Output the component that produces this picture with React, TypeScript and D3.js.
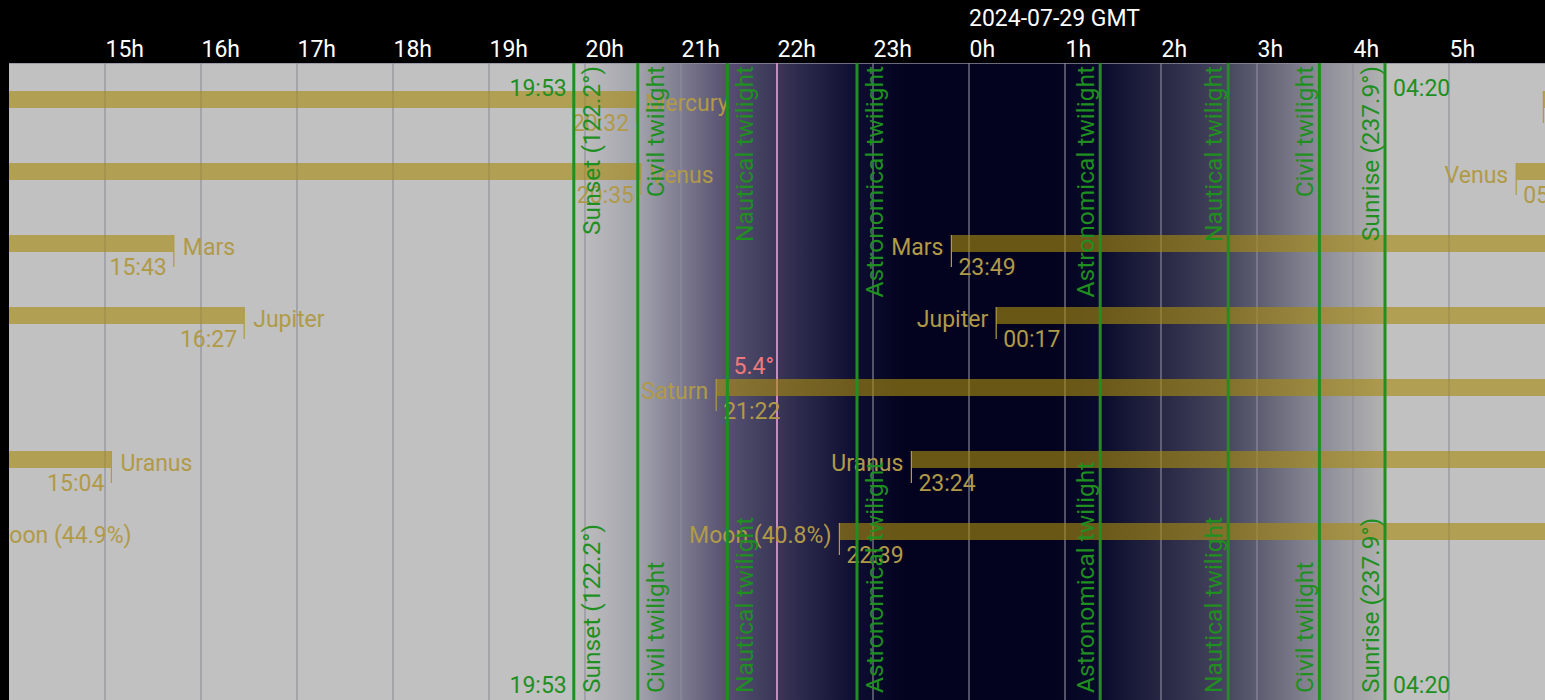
import * as d3 from "d3";
import { useEffect, useRef } from "react";

// night of 2024-07-28/29, times in GMT
const dateLabel = "2024-07-29 GMT";
const hourTicks = [15, 16, 17, 18, 19, 20, 21, 22, 23, 0, 1, 2, 3, 4, 5];

const twilightNames = [
  "Sunset (122.2°)",
  "Civil twilight",
  "Nautical twilight",
  "Astronomical twilight",
  "Astronomical twilight",
  "Nautical twilight",
  "Civil twilight",
  "Sunrise (237.9°)",
];
const twilightTimes = ["19:53", "20:33", "21:29", "22:50", "01:22", "02:42", "03:39", "04:20"];

// planets: set before the night (left bar), rise during/after (right bar)
const setNames = ["Mercury", "Venus", "Mars", "Jupiter", "", "Uranus", "Moon (44.9%)"];
const setTimes = ["20:32", "20:35", "15:43", "16:27", null, "15:04", "13:42"];
const riseNames = ["", "Venus", "Mars", "Jupiter", "Saturn", "Uranus", "Moon (40.8%)"];
const riseTimes = ["05:59", "05:42", "23:49", "00:17", "21:22", "23:24", "22:39"];

const nowTime = "22:00";
const nowLabel = "5.4°";
const nowRow = 4;

// sky colours at each twilight line, plus deep night
const skyColors = ["#c1c1c1", "#a3a3ad", "#55506f", "#0d0d31", "#0a0a2c", "#47475f", "#8b8b97", "#b3b3b3"];
const nightColor = "#03031f";

const parse = (t: string) => {
  const [h, m] = t.split(":").map(Number);
  return new Date(Date.UTC(2024, 6, h < 12 ? 29 : 28, h, m));
};

const App = () => {
  const svgRef = useRef(null);

  useEffect(() => {
    const w = 1545;
    const h = 700;
    const left = 9;
    const top = 63;
    const font = "Roboto, sans-serif";
    const gold = "#b09a48";
    const green = "#1f8f1f";

    const svg = d3.select(svgRef.current).attr("width", w).attr("height", h);
    svg.selectAll("*").remove();

    const x = d3
      .scaleUtc()
      .domain([new Date(Date.UTC(2024, 6, 28, 14)), new Date(Date.UTC(2024, 6, 29, 6))])
      .range([left, w]);
    const row = d3.scaleLinear().domain([0, 6]).range([91, 91 + 72 * 6]);
    const barH = 17;

    svg.append("rect").attr("width", w).attr("height", h).attr("fill", "#000");

    // header
    svg
      .append("text")
      .attr("x", x(parse("00:00")))
      .attr("y", 26)
      .attr("fill", "#fff")
      .attr("font-family", font)
      .attr("font-size", 23)
      .text(dateLabel);

    const xAxis = d3
      .axisTop(x)
      .tickValues(hourTicks.map((hr) => parse(`${hr}:00`)))
      .tickFormat((d: any) => `${d.getUTCHours()}h`)
      .tickSize(0)
      .tickPadding(0);
    const ax = svg.append("g").attr("transform", "translate(0,57)").call(xAxis);
    ax.select(".domain").remove();
    ax.selectAll("text")
      .attr("text-anchor", "start")
      .attr("fill", "#fff")
      .attr("font-family", font)
      .attr("font-size", 23);

    // plot area
    svg
      .append("clipPath")
      .attr("id", "plot")
      .append("rect")
      .attr("x", left)
      .attr("y", top)
      .attr("width", w - left)
      .attr("height", h - top);
    const g = svg.append("g").attr("clip-path", "url(#plot)");

    g.append("rect")
      .attr("x", left)
      .attr("y", top)
      .attr("width", w - left)
      .attr("height", h - top)
      .attr("fill", "#c1c1c1");

    // sky gradient sunset -> sunrise
    const tw = twilightTimes.map(parse);
    const x0 = x(tw[0]);
    const x1 = x(tw[tw.length - 1]);
    const off = (d: Date) => (x(d) - x0) / (x1 - x0);
    const stops: [number, string][] = tw.map((d, i) => [off(d), skyColors[i]]);
    stops.splice(4, 0, [off(new Date(+tw[3] + 30 * 60000)), nightColor], [off(new Date(+tw[4] - 30 * 60000)), nightColor]);
    const grad = svg
      .append("defs")
      .append("linearGradient")
      .attr("id", "sky")
      .attr("gradientUnits", "userSpaceOnUse")
      .attr("x1", x0)
      .attr("x2", x1)
      .attr("y1", 0)
      .attr("y2", 0);
    stops.forEach(([o, c]) => grad.append("stop").attr("offset", o).attr("stop-color", c));
    g.append("rect")
      .attr("x", x0)
      .attr("y", top)
      .attr("width", x1 - x0)
      .attr("height", h - top)
      .attr("fill", "url(#sky)");

    // hour gridlines
    g.selectAll(".grid")
      .data(hourTicks.map((hr) => parse(`${hr}:00`)))
      .enter()
      .append("line")
      .attr("x1", (d) => x(d))
      .attr("x2", (d) => x(d))
      .attr("y1", top)
      .attr("y2", h)
      .attr("stroke", "#8e8e9e")
      .attr("stroke-opacity", 0.75)
      .attr("stroke-width", 1.5);
    g.append("line")
      .attr("x1", left)
      .attr("x2", w)
      .attr("y1", top + 0.5)
      .attr("y2", top + 0.5)
      .attr("stroke", "#8e8e9e")
      .attr("stroke-opacity", 0.75);

    // current time line
    const nx = x(parse(nowTime));
    g.append("line")
      .attr("x1", nx)
      .attr("x2", nx)
      .attr("y1", top)
      .attr("y2", h)
      .attr("stroke", "#c98bc0")
      .attr("stroke-width", 2);

    // planets
    setTimes.forEach((t, i) => {
      const y = row(i);
      if (t) {
        const ex = x(parse(t));
        g.append("rect")
          .attr("x", left)
          .attr("y", y)
          .attr("width", Math.max(0, ex - left))
          .attr("height", barH)
          .attr("fill", "#a88a10")
          .attr("fill-opacity", 0.62);
        g.append("line")
          .attr("x1", ex)
          .attr("x2", ex)
          .attr("y1", y)
          .attr("y2", y + barH + 15)
          .attr("stroke", gold)
          .attr("stroke-width", 1.2);
        g.append("text")
          .attr("x", ex - 7)
          .attr("y", y + barH + 23)
          .attr("text-anchor", "end")
          .attr("fill", gold)
          .attr("font-family", font)
          .attr("font-size", 23)
          .text(t);
        if (setNames[i])
          g.append("text")
            .attr("x", ex + 9)
            .attr("y", y + 20)
            .attr("fill", gold)
            .attr("font-family", font)
            .attr("font-size", 23)
            .text(setNames[i]);
      }
      const rt = riseTimes[i];
      const sx = x(parse(rt));
      g.append("rect")
        .attr("x", sx)
        .attr("y", y)
        .attr("width", w - sx)
        .attr("height", barH)
        .attr("fill", "#a88a10")
        .attr("fill-opacity", 0.62);
      g.append("line")
        .attr("x1", sx)
        .attr("x2", sx)
        .attr("y1", y)
        .attr("y2", y + barH + 15)
        .attr("stroke", gold)
        .attr("stroke-width", 1.2);
      g.append("text")
        .attr("x", sx + 7)
        .attr("y", y + barH + 23)
        .attr("fill", gold)
        .attr("font-family", font)
        .attr("font-size", 23)
        .text(rt);
      if (riseNames[i])
        g.append("text")
          .attr("x", sx - 8)
          .attr("y", y + 20)
          .attr("text-anchor", "end")
          .attr("fill", gold)
          .attr("font-family", font)
          .attr("font-size", 23)
          .text(riseNames[i]);
    });

    // twilight lines and labels
    tw.forEach((d, i) => {
      const lx = x(d);
      const evening = d < parse("00:00");
      const bx = evening ? lx + 26 : lx - 6;
      g.append("line")
        .attr("x1", lx)
        .attr("x2", lx)
        .attr("y1", top)
        .attr("y2", h)
        .attr("stroke", green)
        .attr("stroke-width", 3);
      [
        [66, "end"],
        [693, "start"],
      ].forEach(([ty, anchor]) => {
        g.append("text")
          .attr("transform", `translate(${bx},${ty}) rotate(-90)`)
          .attr("text-anchor", anchor as string)
          .attr("fill", green)
          .attr("font-family", font)
          .attr("font-size", 24.5)
          .text(twilightNames[i]);
      });
      if (i === 0 || i === tw.length - 1) {
        [96, 693].forEach((ty) => {
          g.append("text")
            .attr("x", i === 0 ? lx - 7 : lx + 8)
            .attr("y", ty)
            .attr("text-anchor", i === 0 ? "end" : "start")
            .attr("fill", green)
            .attr("font-family", font)
            .attr("font-size", 23)
            .text(twilightTimes[i]);
        });
      }
    });

    g.append("text")
      .attr("x", nx - 3)
      .attr("y", row(nowRow) - 5)
      .attr("text-anchor", "end")
      .attr("fill", "#f07a7a")
      .attr("font-family", font)
      .attr("font-size", 23)
      .text(nowLabel);
  }, []);

  return <svg ref={svgRef} style={{ position: "absolute", left: 0, top: 0 }}></svg>;
};

export default App;
